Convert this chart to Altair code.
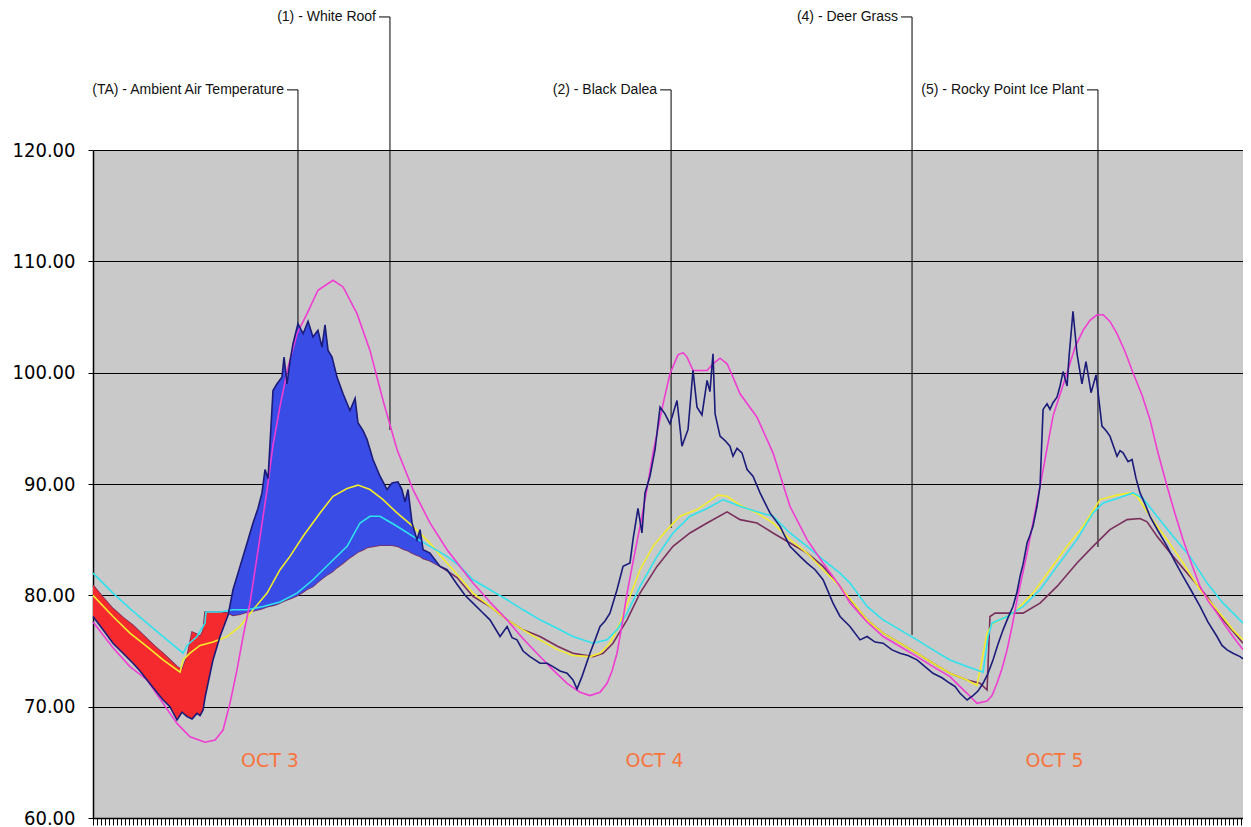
import altair as alt
import pandas as pd

# ---------------- data (time in hours from start of record, temperature in °F) ----------------
# Day 1 readings shared by ambient air and deer grass (used for the shaded band)
day1_t = [0.00, 0.63, 1.25, 1.88, 2.50, 2.94, 3.38, 3.88, 4.38, 4.81,
          5.25, 5.56, 5.88, 6.19, 6.50, 6.69, 6.88, 7.00, 7.19, 7.50,
          7.94, 8.44, 8.75, 9.19, 9.63, 10.00, 10.31, 10.56, 10.75, 10.94,
          11.25, 11.50, 11.81, 11.94, 12.13, 12.31, 12.50, 12.81, 13.13, 13.44,
          13.75, 14.06, 14.31, 14.50, 14.69, 14.94, 15.25, 15.63, 16.06, 16.38,
          16.56, 16.88, 17.13, 17.50, 17.94, 18.38, 18.69, 19.06, 19.31, 19.50,
          19.69, 19.94, 20.25, 20.44, 20.63, 21.06, 21.69, 22.13, 22.75]
day1_ambient = [78.1, 76.9, 75.7, 74.8, 73.9, 73.2, 72.4, 71.5, 70.6, 70.0,
                68.8, 69.5, 69.1, 68.9, 69.4, 69.2, 69.7, 70.8, 72.1, 74.2,
                76.3, 78.2, 80.5, 82.6, 84.7, 86.5, 87.8, 89.2, 91.3, 90.5,
                98.4, 99.0, 99.6, 101.4, 99.0, 101.0, 102.6, 104.4, 103.5, 104.6,
                103.2, 103.8, 102.3, 104.3, 102.0, 101.4, 99.6, 98.1, 96.6, 97.7,
                95.5, 94.8, 94.0, 92.2, 90.7, 89.5, 90.1, 90.2, 89.5, 88.4,
                89.5, 86.5, 85.0, 85.9, 84.1, 83.8, 82.6, 82.3, 81.0]
day1_deer = [80.9, 79.8, 78.8, 78.0, 77.3, 76.7, 76.1, 75.4, 74.8, 74.2,
             73.6, 73.3, 74.5, 76.7, 76.5, 76.3, 76.8, 78.5, 78.5, 78.5,
             78.5, 78.4, 78.2, 78.3, 78.5, 78.6, 78.7, 78.8, 78.9, 79.0,
             79.1, 79.2, 79.4, 79.5, 79.6, 79.7, 79.8, 80.0, 80.3, 80.6,
             80.8, 81.2, 81.5, 81.7, 81.9, 82.1, 82.5, 82.9, 83.4, 83.7,
             83.9, 84.1, 84.3, 84.4, 84.5, 84.5, 84.5, 84.4, 84.2, 84.1,
             84.0, 83.8, 83.6, 83.5, 83.3, 83.1, 82.6, 82.2, 81.6]

# (TA) Ambient air temperature, rest of record
amb_t = [23.25, 23.75, 24.31, 24.81, 25.44, 25.88, 26.19, 26.50, 26.88, 27.31,
         27.94, 28.38, 28.75, 29.19, 29.63, 30.00, 30.25, 30.56, 31.06, 31.38,
         31.69, 32.00, 32.31, 32.75, 33.13, 33.56, 33.75, 34.06, 34.31, 34.50,
         34.81, 35.13, 35.44, 35.75, 36.06, 36.50, 36.81, 37.19, 37.50, 37.75,
         38.06, 38.38, 38.56, 38.75, 38.88, 39.19, 39.50, 39.81, 40.00, 40.25,
         40.56, 40.88, 41.25, 41.69, 42.31, 42.94, 43.56, 44.19, 44.63, 45.13,
         45.63, 46.25, 46.69, 47.31, 47.94, 48.38, 48.88, 49.38, 49.94, 50.44,
         50.94, 51.50, 52.00, 52.50, 53.06, 53.56, 53.88, 54.19, 54.63, 55.00,
         55.31, 55.63, 55.94, 56.25, 56.56, 56.88, 57.19, 57.50, 57.75, 57.94,
         58.13, 58.38, 58.56, 58.75, 59.00, 59.19, 59.38, 59.63, 59.81, 60.00,
         60.25, 60.44, 60.63, 60.88, 61.00, 61.25, 61.50, 61.81, 62.06, 62.38,
         62.69, 63.06, 63.31, 63.56, 64.00, 64.19, 64.38, 64.69, 64.94, 65.19,
         65.44, 65.75, 66.06, 66.56, 67.13, 67.63, 68.13, 68.69, 69.19, 69.69,
         70.25, 70.56, 70.88, 71.25, 71.69, 71.88]
amb_v = [80.0, 79.3, 78.5, 77.8, 76.3, 77.2, 76.2, 76.0, 75.0, 74.5,
         73.9, 73.9, 73.6, 73.2, 73.0, 72.4, 71.6, 72.7, 74.8, 76.0,
         77.2, 77.7, 78.4, 80.5, 82.6, 82.9, 85.0, 87.8, 85.6, 89.2,
         90.7, 93.1, 96.9, 96.3, 95.4, 97.5, 93.4, 94.9, 100.2, 96.9,
         96.2, 99.3, 98.3, 101.7, 96.3, 94.3, 93.9, 93.4, 92.5, 93.2,
         92.8, 91.3, 90.7, 89.2, 87.4, 86.2, 84.4, 83.5, 82.9, 82.3,
         81.4, 79.3, 78.1, 77.2, 76.0, 76.3, 75.8, 75.7, 75.1, 74.8,
         74.6, 74.2, 73.6, 73.0, 72.6, 72.1, 71.8, 71.2, 70.6, 71.0,
         71.4, 72.1, 73.0, 74.2, 75.6, 76.9, 78.0, 79.0, 80.3, 81.7,
         82.8, 84.7, 85.4, 86.2, 88.0, 89.8, 96.7, 97.2, 96.7, 97.3,
         97.8, 98.8, 100.1, 98.8, 101.4, 105.5, 101.7, 99.0, 101.0, 98.2,
         99.8, 95.2, 94.8, 94.3, 92.5, 93.0, 92.8, 92.0, 92.2, 90.5,
         89.2, 88.2, 87.1, 85.8, 84.4, 83.0, 81.7, 80.3, 79.0, 77.6,
         76.3, 75.5, 75.1, 74.8, 74.5, 74.3]

# (4) Deer Grass, rest of record
deer_t = [23.75, 24.81, 25.88, 26.88, 27.94, 29.06, 30.00, 31.25, 31.88, 32.50,
          33.38, 34.19, 35.25, 36.25, 37.31, 38.38, 39.63, 40.44, 41.50, 42.50,
          43.56, 44.63, 45.63, 46.69, 47.31, 48.38, 49.38, 50.44, 51.50, 52.50,
          53.56, 54.63, 55.44, 55.88, 56.06, 56.38, 57.13, 58.13, 59.19, 60.25,
          61.50, 62.50, 63.56, 64.63, 65.44, 65.88, 66.50, 67.50, 68.56, 69.63,
          70.63, 71.88]
deer_v = [79.9, 79.0, 77.8, 76.9, 76.3, 75.4, 74.8, 74.5, 74.8, 75.7,
          77.8, 80.2, 82.6, 84.4, 85.6, 86.5, 87.5, 86.8, 86.5, 85.6,
          84.7, 83.8, 82.6, 80.8, 79.6, 77.8, 76.6, 75.7, 74.8, 73.9,
          73.0, 72.4, 72.1, 71.5, 78.1, 78.4, 78.4, 78.4, 79.3, 80.8,
          82.9, 84.4, 85.9, 86.8, 86.9, 86.6, 85.3, 83.5, 81.7, 79.9,
          77.8, 75.7]

# (2) Black Dalea
dalea_t = [0.00, 1.25, 2.31, 3.38, 4.38, 5.44, 5.63, 6.06, 6.69, 7.50,
           8.38, 9.19, 10.00, 10.88, 11.69, 12.31, 13.13, 14.19, 15.00, 15.88,
           16.56, 17.31, 18.13, 19.00, 20.00, 21.06, 21.69, 22.75, 23.75, 24.81,
           25.88, 26.88, 27.94, 29.06, 30.00, 31.06, 31.69, 32.31, 32.94, 33.56,
           34.19, 35.00, 35.88, 36.69, 37.75, 38.38, 39.06, 39.63, 40.44, 41.50,
           42.50, 43.56, 44.63, 45.63, 46.69, 47.31, 48.38, 49.38, 50.44, 51.50,
           52.50, 53.56, 54.63, 55.25, 55.56, 55.88, 56.25, 57.13, 57.75, 58.75,
           59.81, 60.88, 61.88, 62.94, 64.00, 64.81, 65.25, 66.06, 67.13, 68.13,
           69.19, 70.25, 71.25, 71.88]
dalea_v = [80.0, 78.1, 76.6, 75.4, 74.2, 73.1, 74.2, 74.8, 75.5, 75.8,
           76.3, 77.2, 78.7, 80.2, 82.3, 83.5, 85.3, 87.4, 88.9, 89.6,
           89.9, 89.5, 88.6, 87.4, 86.2, 84.7, 83.6, 81.9, 80.2, 79.0,
           77.8, 76.9, 76.0, 75.1, 74.6, 74.5, 74.8, 75.7, 77.5, 79.9,
           82.3, 84.4, 85.9, 87.1, 87.7, 88.3, 89.0, 88.9, 88.1, 87.4,
           86.5, 85.0, 83.8, 82.3, 80.8, 79.7, 77.8, 76.6, 75.7, 74.8,
           73.9, 73.0, 72.4, 71.9, 74.2, 76.6, 77.5, 78.1, 78.7, 80.2,
           82.3, 84.4, 86.2, 88.6, 89.0, 89.2, 88.9, 87.1, 85.0, 82.9,
           80.5, 78.7, 76.9, 76.0]

# (5) Rocky Point Ice Plant
rocky_t = [0.00, 1.25, 2.31, 3.38, 4.38, 5.63, 5.88, 6.50, 7.00, 7.06,
           7.94, 8.75, 9.63, 10.63, 11.69, 12.75, 13.75, 14.81, 15.88, 16.69,
           17.31, 17.94, 19.00, 20.00, 21.06, 22.13, 22.94, 23.75, 24.81, 25.88,
           26.88, 27.94, 29.06, 30.00, 31.25, 32.13, 32.75, 33.38, 34.19, 35.25,
           36.25, 37.31, 38.38, 39.38, 40.44, 41.50, 42.50, 43.56, 44.63, 45.63,
           46.69, 47.31, 48.38, 49.38, 50.44, 51.50, 52.50, 53.56, 54.63, 55.63,
           55.94, 56.19, 57.13, 58.13, 59.19, 60.25, 61.50, 62.50, 63.13, 64.00,
           65.00, 65.63, 66.50, 67.50, 68.56, 69.63, 70.63, 71.88]
rocky_v = [82.0, 80.2, 78.8, 77.5, 76.3, 74.8, 75.5, 76.3, 77.5, 78.5,
           78.5, 78.7, 78.7, 79.0, 79.4, 80.2, 81.4, 82.9, 84.4, 86.5,
           87.1, 87.1, 86.2, 85.3, 84.4, 83.5, 82.6, 81.4, 80.5, 79.6,
           78.7, 77.8, 77.0, 76.3, 75.7, 76.0, 76.9, 78.4, 80.8, 83.5,
           85.6, 87.1, 87.8, 88.6, 88.0, 87.5, 87.1, 85.6, 84.4, 83.2,
           82.0, 81.1, 79.0, 77.8, 76.9, 76.0, 75.1, 74.2, 73.6, 73.1,
           76.3, 77.5, 78.1, 79.0, 80.5, 82.6, 85.0, 87.4, 88.3, 88.7,
           89.2, 88.7, 87.1, 85.3, 83.5, 81.1, 79.3, 77.5]

# (1) White Roof
roof_t = [0.00, 1.25, 2.31, 3.38, 4.38, 5.25, 6.06, 7.00, 7.63, 8.13,
          8.56, 9.00, 9.38, 9.81, 10.31, 10.88, 11.25, 11.69, 12.19, 12.75,
          13.38, 14.06, 15.00, 15.63, 16.50, 17.31, 18.13, 19.00, 20.00, 21.06,
          22.13, 22.94, 23.75, 24.81, 25.88, 26.88, 27.94, 28.75, 29.63, 30.44,
          31.06, 31.69, 32.13, 32.44, 32.75, 33.06, 33.38, 33.75, 34.19, 34.63,
          35.00, 35.63, 36.06, 36.56, 36.88, 37.13, 37.50, 38.38, 38.75, 39.19,
          39.63, 40.00, 40.44, 41.50, 42.50, 43.56, 44.63, 45.63, 46.69, 47.31,
          48.38, 49.38, 50.44, 51.50, 52.50, 53.56, 54.19, 54.63, 55.25, 55.88,
          56.19, 56.50, 56.81, 57.13, 57.44, 57.75, 58.38, 59.19, 60.00, 60.88,
          61.38, 61.88, 62.31, 62.75, 63.13, 63.56, 64.00, 64.50, 65.00, 65.56,
          66.06, 66.56, 67.13, 67.63, 68.13, 68.69, 69.19, 69.69, 70.25, 70.75,
          71.25, 71.88]
roof_v = [77.6, 75.3, 73.6, 72.4, 70.3, 68.5, 67.3, 66.8, 67.0, 67.9,
          70.3, 73.3, 76.3, 79.3, 84.0, 89.5, 93.5, 97.0, 100.5, 103.5,
          105.3, 107.4, 108.3, 107.7, 105.3, 102.0, 97.5, 93.1, 89.5, 86.5,
          84.1, 82.6, 81.1, 79.4, 77.8, 76.1, 74.5, 73.3, 72.1, 71.3,
          71.0, 71.3, 72.1, 73.2, 74.8, 77.3, 80.2, 83.0, 86.2, 89.6,
          92.8, 97.2, 99.9, 101.6, 101.8, 101.4, 100.2, 100.2, 100.8, 101.3,
          100.8, 99.6, 98.1, 96.0, 92.8, 88.0, 85.0, 82.9, 80.8, 79.3,
          77.6, 76.3, 75.4, 74.5, 73.6, 72.7, 71.8, 71.2, 70.3, 70.5,
          71.0, 72.1, 73.4, 75.1, 77.2, 79.6, 83.8, 89.8, 96.1, 100.0,
          102.3, 103.8, 104.7, 105.2, 105.2, 104.6, 103.5, 101.9, 100.0, 98.0,
          95.8, 92.8, 89.8, 87.3, 85.0, 82.7, 80.8, 79.5, 78.4, 77.3,
          76.3, 75.1]

# Callouts: label, time of leader line, y of label row, y where leader ends
ann_labels = ["(TA) - Ambient Air Temperature", "(1) - White Roof", "(2) - Black Dalea",
              "(4) - Deer Grass", "(5) - Rocky Point Ice Plant"]
ann_t = [12.81, 18.56, 36.13, 51.19, 62.81]
ann_y_text = [125.4, 131.95, 125.4, 131.95, 125.4]
ann_y_end = [104.3, 94.85, 86.05, 76.44, 84.34]

day_labels = ["OCT 3", "OCT 4", "OCT 5"]
day_t = [11.06, 35.1, 60.1]
day_y = [65.1, 65.1, 65.1]

y_ticks = [60, 70, 80, 90, 100, 110, 120]
x_ticks = [i * 0.25 for i in range(288)]

# ---------------- frames ----------------
band = pd.DataFrame({"t": day1_t, "top": day1_ambient, "bot": day1_deer})
band_red = band[band.t <= 8.44]
band_blue = band[(band.t >= 8.44) & (band.t <= 21.69)]

ambient = pd.DataFrame({"t": day1_t + amb_t, "v": day1_ambient + amb_v})
deer = pd.DataFrame({"t": day1_t + deer_t, "v": day1_deer + deer_v})
dalea = pd.DataFrame({"t": dalea_t, "v": dalea_v})
rocky = pd.DataFrame({"t": rocky_t, "v": rocky_v})
roof = pd.DataFrame({"t": roof_t, "v": roof_v})
ann = pd.DataFrame({"label": ann_labels, "t": ann_t, "yt": ann_y_text, "ye": ann_y_end})
days = pd.DataFrame({"label": day_labels, "t": day_t, "v": day_y})

# ---------------- scales / axes ----------------
xscale = alt.Scale(domain=[0, 71.875], nice=False, zero=False)
yscale = alt.Scale(domain=[60, 120], nice=False, zero=False)
xaxis = alt.Axis(values=x_ticks, labels=False, title=None, grid=False, tickSize=7,
                 tickColor="black", tickWidth=1, domainColor="black", domainWidth=1.5)
yaxis = alt.Axis(values=y_ticks, format=".2f", title=None, grid=True, gridColor="black",
                 gridWidth=1.2, labelFontSize=20, labelFont="DejaVu Sans Condensed, DejaVu Sans",
                 labelColor="black", tickSize=5, tickColor="black", labelPadding=13,
                 domainColor="black", domainWidth=1.5)


def X(f="t"):
    return alt.X(f"{f}:Q", scale=xscale, axis=xaxis)


def Y(f="v"):
    return alt.Y(f"{f}:Q", scale=yscale, axis=yaxis)


def line(df, color, w=1.6):
    return alt.Chart(df).mark_line(color=color, strokeWidth=w).encode(x=X(), y=Y())


leaders = alt.Chart(ann).mark_rule(color="black", strokeWidth=1).encode(
    x=X(), y=Y("yt"), y2="ye")
connectors = alt.Chart(ann).mark_rule(color="black", strokeWidth=1, xOffset=-11).encode(
    x=X(), x2="t", y=Y("yt"))
ann_text = alt.Chart(ann).mark_text(align="right", baseline="middle", dx=-14,
                                    font="Liberation Sans", fontSize=14, color="#111111").encode(
    x=X(), y=Y("yt"), text="label:N")

red_area = alt.Chart(band_red).mark_area(color="#F42A2E", opacity=1).encode(
    x=X(), y=Y("top"), y2="bot")
blue_area = alt.Chart(band_blue).mark_area(color="#3A4CE6", opacity=1).encode(
    x=X(), y=Y("top"), y2="bot")

day_text = alt.Chart(days).mark_text(align="center", baseline="middle", font="DejaVu Sans",
                                     fontSize=19, color="#F8743F").encode(
    x=X(), y=Y(), text="label:N")

chart = alt.layer(
    leaders, connectors,
    line(deer, "#7A2E5C"),
    red_area, blue_area,
    line(dalea, "#F2EC2A"),
    line(rocky, "#2FE2EE"),
    line(roof, "#F03CD2"),
    line(ambient, "#1B1B7A"),
    ann_text, day_text,
).properties(
    width=1150, height=668,
    autosize=alt.AutoSizeParams(type="none"),
    padding={"left": 85, "top": 142, "right": 0, "bottom": 18},
    background="white",
).configure_view(fill="#C9C9C9", stroke="transparent")

chart.save("out.html", embed_options={"renderer": "svg", "actions": False})
